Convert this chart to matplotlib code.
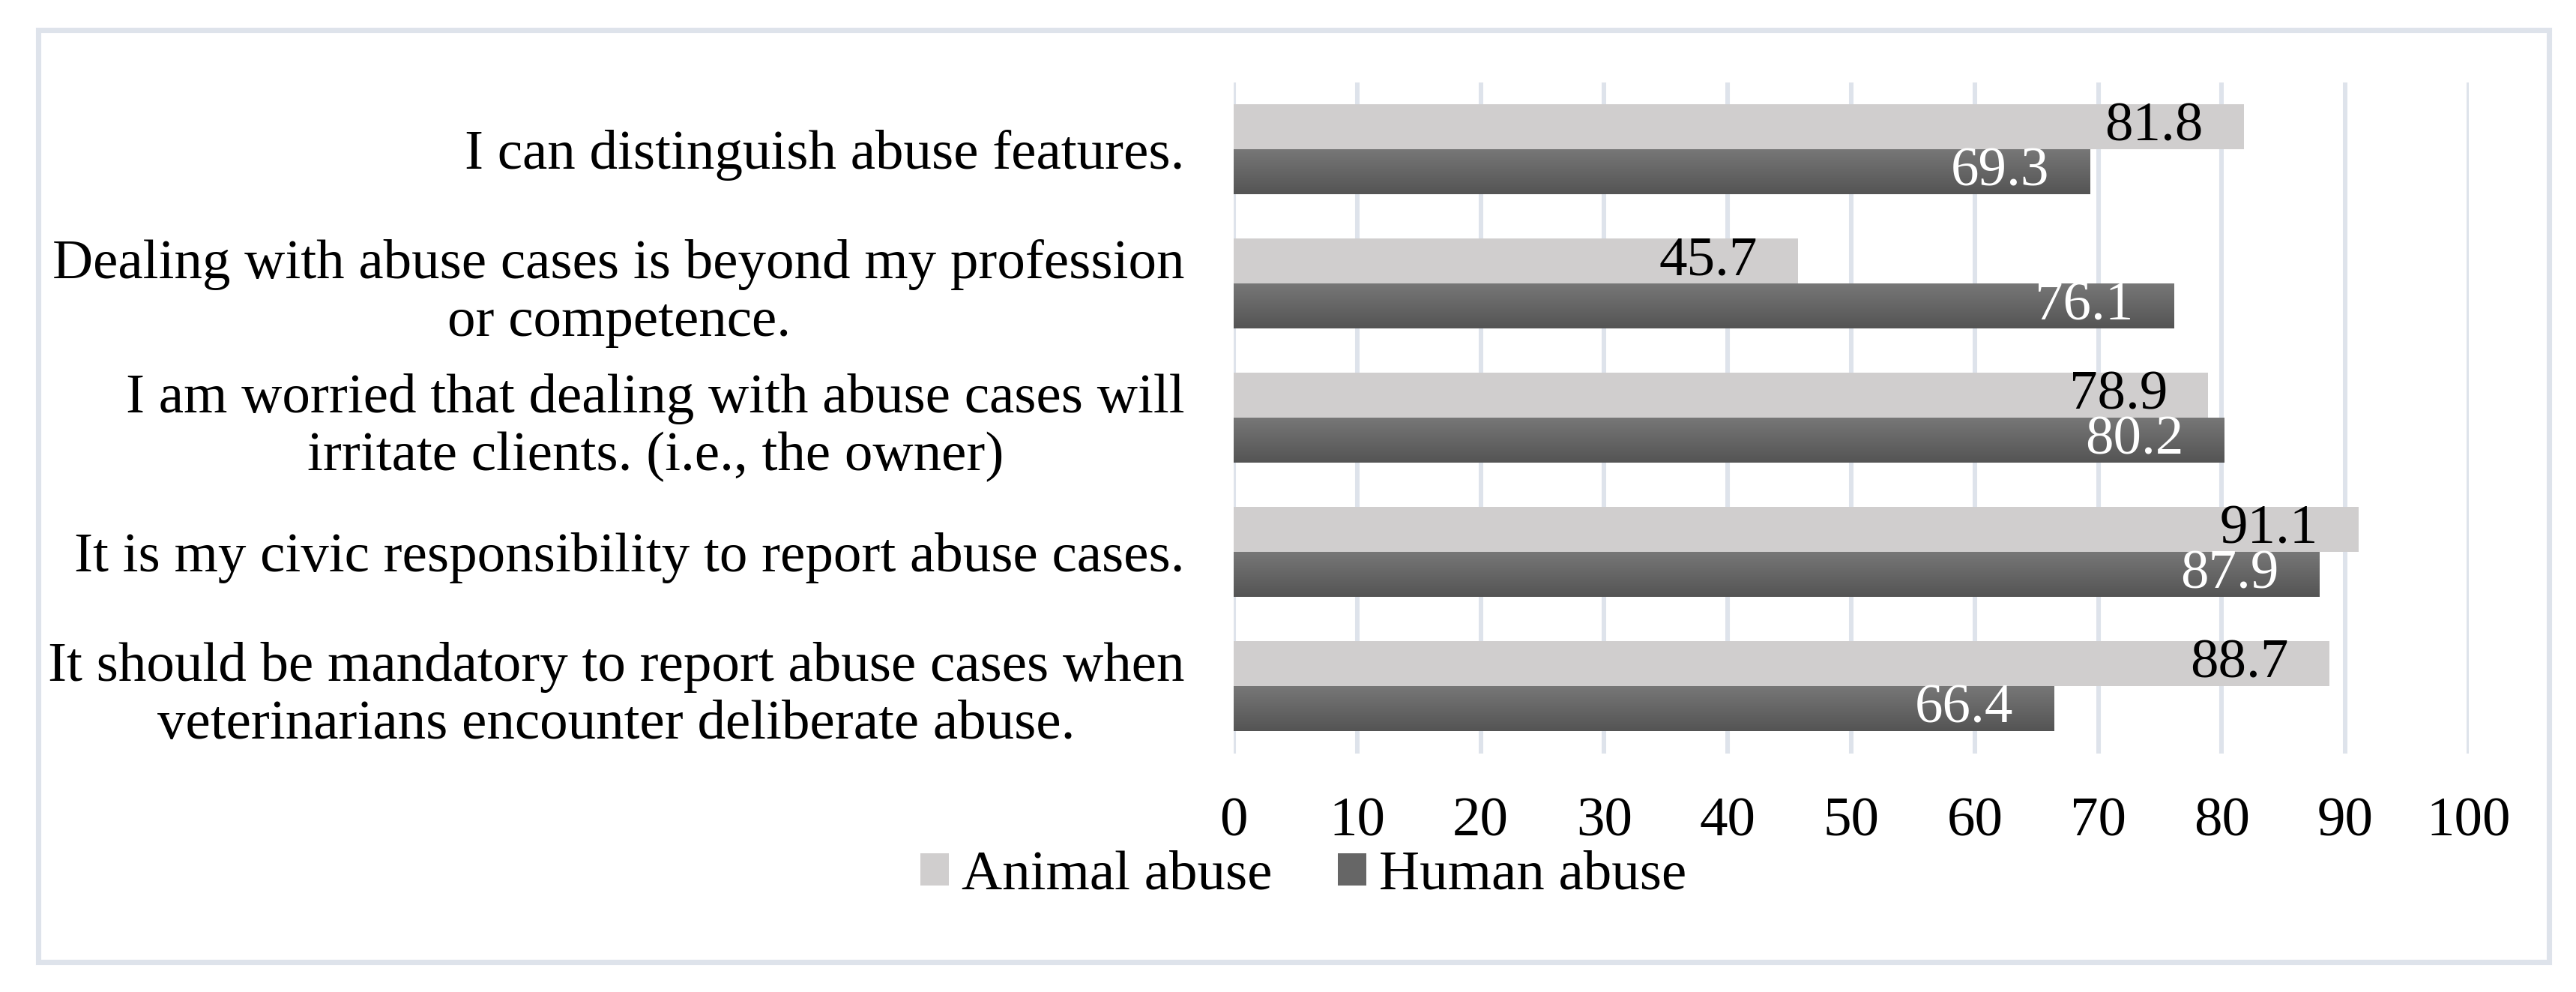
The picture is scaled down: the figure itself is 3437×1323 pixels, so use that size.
import numpy as np
import matplotlib
matplotlib.use("Agg")
import matplotlib.pyplot as plt
from matplotlib.colors import LinearSegmentedColormap
from matplotlib.patches import Rectangle

plt.rcParams['font.family'] = ['Liberation Serif', 'DejaVu Serif']

# data
categories = [
    "I can distinguish abuse features.",
    "Dealing with abuse cases is beyond my profession\nor competence.",
    "I am worried that dealing with abuse cases will\nirritate clients. (i.e., the owner)",
    "It is my civic responsibility to report abuse cases.",
    "It should be mandatory to report abuse cases when\nveterinarians encounter deliberate abuse.",
]
animal_abuse = [81.8, 45.7, 78.9, 91.1, 88.7]
human_abuse = [69.3, 76.1, 80.2, 87.9, 66.4]
xticks = [0, 10, 20, 30, 40, 50, 60, 70, 80, 90, 100]
series_names = ["Animal abuse", "Human abuse"]

light = '#D0CECE'
dark_top = '#777777'
dark_bot = '#545454'
grid_col = '#DEE3EB'
fs = 18

fig = plt.figure(figsize=(3437 / 300, 1323 / 300), dpi=300)
ax = fig.add_axes([0.4789, 0.2404, 0.4795, 0.6765])

y = np.arange(len(categories))
h = 0.335
off = 0.1675

b1 = ax.barh(y - off, animal_abuse, height=h, color=light, label=series_names[0], zorder=2)
b2 = ax.barh(y + off, human_abuse, height=h, color='#666666', label=series_names[1], zorder=2)

# gradient fill on the dark bars
cmap = LinearSegmentedColormap.from_list('g', [dark_top, dark_bot])
grad = np.linspace(0, 1, 256).reshape(-1, 1)
for r in b2.patches:
    x0, y0, w, hh = r.get_x(), r.get_y(), r.get_width(), r.get_height()
    ax.imshow(grad, extent=[x0, x0 + w, y0 + hh, y0], aspect='auto', cmap=cmap,
              origin='upper', interpolation='bilinear', zorder=2.5)

for r, v in zip(b1.patches, animal_abuse):
    ax.annotate(f"{v:.1f}", xy=(r.get_x() + r.get_width(), r.get_y() + r.get_height() / 2),
                xytext=(-13, 0), textcoords='offset points', ha='right', va='center',
                fontsize=fs, color='black', zorder=4)
for r, v in zip(b2.patches, human_abuse):
    ax.annotate(f"{v:.1f}", xy=(r.get_x() + r.get_width(), r.get_y() + r.get_height() / 2),
                xytext=(-13, 0), textcoords='offset points', ha='right', va='center',
                fontsize=fs, color='white', zorder=4)

ax.set_xlim(0, 100)
ax.set_ylim(len(categories) - 0.5, -0.5)
ax.set_xticks(xticks)
ax.set_xticklabels([str(t) for t in xticks], fontsize=fs)
ax.set_yticks(y)
ax.set_yticklabels(categories, fontsize=fs, multialignment='center')
ax.tick_params(axis='x', length=0, pad=14)
ax.tick_params(axis='y', length=0, pad=15.6)
ax.grid(axis='x', color=grid_col, linewidth=1.45, zorder=0)
ax.set_axisbelow(True)
for s in ax.spines.values():
    s.set_visible(False)

leg = fig.legend(handles=[b1, b2], labels=series_names, loc='center',
                 bbox_to_anchor=(0.506, 0.117), ncol=2, frameon=False, fontsize=fs,
                 handlelength=0.5, handleheight=0.52, handletextpad=0.23,
                 columnspacing=1.17)

# chart area border
fig.patches.append(Rectangle((0.01484, 0.03023), 0.98953 - 0.01484, 0.97014 - 0.03023,
                             transform=fig.transFigure, fill=False,
                             edgecolor=grid_col, linewidth=1.7, zorder=0))

fig.savefig("out.png", dpi=300)
